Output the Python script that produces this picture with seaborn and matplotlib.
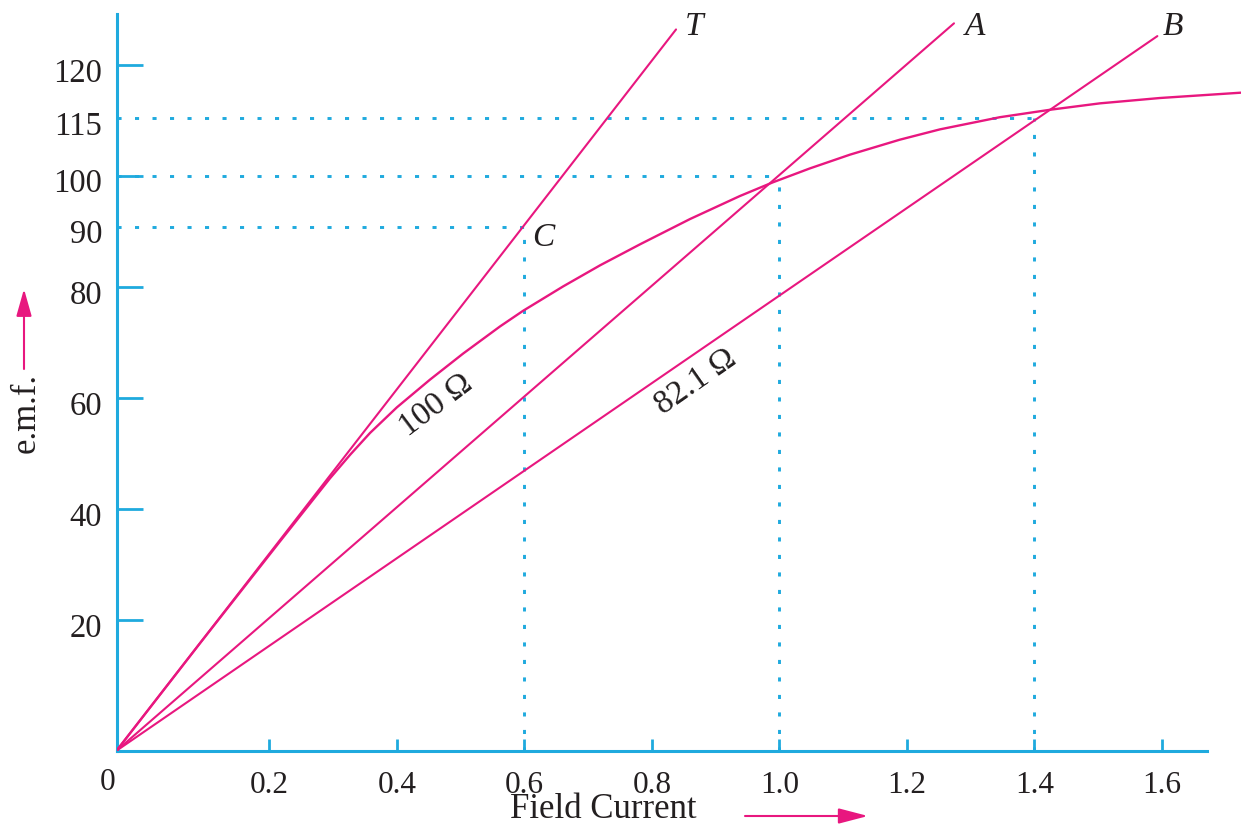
import numpy as np
import matplotlib
matplotlib.use("Agg")
import matplotlib.pyplot as plt
import matplotlib.transforms as mtransforms
import seaborn as sns


# open circuit characteristic (field current in A, e.m.f. in V)
occ_current = [0, 0.109, 0.217, 0.295, 0.327, 0.358, 0.400, 0.452, 0.504, 0.562,
               0.598, 0.661, 0.719, 0.782, 0.860, 0.938, 0.990, 1.048, 1.111, 1.189,
               1.252, 1.346, 1.425, 1.503, 1.597, 1.724]
occ_emf = [0, 16.4, 34.2, 45.5, 49.8, 53.7, 58.3, 63.3, 68.0, 72.9,
           75.7, 80.1, 83.6, 87.1, 91.5, 96.0, 98.7, 101.9, 105.5, 109.4,
           112.1, 115.1, 115.8, 116.4, 116.9, 117.4]

# field resistance lines, all from the origin to these end points
line_names = ["T", "A", "B"]
line_end_current = [0.838, 1.274, 1.593]
line_end_emf = [126.4, 127.5, 125.2]

# dotted guides
guide_current = [0.6, 1.0, 1.4]
guide_emf = [90, 100, 115]

x_ticks = [0.2, 0.4, 0.6, 0.8, 1.0, 1.2, 1.4, 1.6]
x_tick_labels = ["0.2", "0.4", "0.6", "0.8", "1.0", "1.2", "1.4", "1.6"]
y_ticks = [20, 40, 60, 80, 90, 100, 115, 120]
y_tick_labels = ["20", "40", "60", "80", "90", "100", "115", "120"]
y_unmarked = [90, 115]

MAGENTA = "#e8177f"
CYAN = "#1faade"
INK = "#231f20"

# the drawing's axes are not evenly spaced, so use piecewise-linear scales
xk = [-10, 0, 0.2, 10]
xd = [-7640, 0, 152.8, 152.8 + 9.8 * 637.5]
yk = [-100, 0, 20, 80, 90, 100, 115, 120, 300]
yd = [-653.5, 0, 130.7, 463.7, 524, 575, 632.4, 685.7, 685.7 + 180 * 5.55]


def fx(v):
    return np.interp(v, xk, xd)


def fx_inv(d):
    return np.interp(d, xd, xk)


def fy(v):
    return np.interp(v, yk, yd)


def fy_inv(d):
    return np.interp(d, yd, yk)


sns.set_theme(style="white")
plt.rcParams["font.family"] = ["Liberation Serif", "DejaVu Serif"]

fig = plt.figure(figsize=(12.41, 8.28), dpi=100)
ax = fig.add_axes([116.5 / 1241, (828 - 751.7) / 828, (1241 - 116.5) / 1241, (751.7 - 14.9) / 828])
ax.set_xscale("function", functions=(fx, fx_inv))
ax.set_yscale("function", functions=(fy, fy_inv))

# dotted guides
for gx, gy in zip(guide_current, guide_emf):
    ax.plot([0, gx], [gy, gy], color=CYAN, lw=2.1, dashes=(1.4, 4.6), zorder=1)
    ax.plot([gx, gx], [0, gy], color=CYAN, lw=2.1, dashes=(1.4, 4.6), zorder=1)

# curve and resistance lines
sns.lineplot(x=occ_current, y=occ_emf, sort=False, color=MAGENTA, lw=1.7, ax=ax, zorder=3)
for name, xe, ye in zip(line_names, line_end_current, line_end_emf):
    sns.lineplot(x=[0, xe], y=[0, ye], color=MAGENTA, lw=1.5, ax=ax, zorder=3)

ax.set_xlim(0, 1.7242)
ax.set_ylim(0, 129.2)

# labels on the lines
ax.text(0.866, 127.0, "T", style="italic", fontsize=24, ha="center", va="center", color=INK)
ax.text(1.307, 127.0, "A", style="italic", fontsize=24, ha="center", va="center", color=INK)
ax.text(1.618, 127.0, "B", style="italic", fontsize=24, ha="center", va="center", color=INK)
ax.text(0.629, 88.3, "C", style="italic", fontsize=24, ha="center", va="center", color=INK)
ax.text(0.4615, 58.9, "100 Ω", rotation=37, rotation_mode="anchor", fontsize=24,
        ha="center", va="center", color=INK)
ax.text(0.869, 63.1, "82.1 Ω", rotation=35, rotation_mode="anchor", fontsize=24,
        ha="center", va="center", color=INK)

# axes styling
sns.despine(ax=ax)
for side in ["left", "bottom"]:
    ax.spines[side].set_color(CYAN)
    ax.spines[side].set_linewidth(2.2)
ax.spines["bottom"].set_bounds(0, 1.6704)

ax.set_xticks(x_ticks)
ax.set_xticklabels(x_tick_labels)
ax.set_yticks(y_ticks)
ax.set_yticklabels(y_tick_labels)
ax.tick_params(axis="y", direction="in", length=18.7, width=2, color=CYAN, pad=10.3,
               labelsize=23.5, labelcolor=INK, left=True)
ax.tick_params(axis="x", direction="in", length=8.6, width=2, color=CYAN, pad=13.7,
               labelsize=22.5, labelcolor=INK, bottom=True)
for t, v in zip(ax.yaxis.get_major_ticks(), y_ticks):
    if v in y_unmarked:
        t.tick1line.set_visible(False)
shift = mtransforms.ScaledTranslation(0, -0.04, fig.dpi_scale_trans)
for lbl in ax.get_yticklabels():
    lbl.set_transform(lbl.get_transform() + shift)
ax.grid(False)

ax.annotate("0", xy=(0, 0), xytext=(-8.5, -16.5), textcoords="offset pixels",
            ha="center", va="top", fontsize=22.5, color=INK)

# axis titles with arrows
fig.text(26 / 1241, 1 - 413 / 828, "e.m.f.", rotation=90, ha="center", va="center",
         fontsize=25, color=INK)
fig.text(603.5 / 1241, 1.5 / 828, "Field Current", ha="center", va="bottom",
         fontsize=25, color=INK)
ax.annotate("", xy=(24, 828 - 290), xytext=(24, 828 - 370), xycoords="figure pixels",
            textcoords="figure pixels",
            arrowprops=dict(arrowstyle="-|>,head_length=1.66,head_width=0.47",
                            mutation_scale=10, color=MAGENTA, lw=1.5, shrinkA=0, shrinkB=0))
ax.annotate("", xy=(868, 11), xytext=(745, 11), xycoords="figure pixels",
            textcoords="figure pixels",
            arrowprops=dict(arrowstyle="-|>,head_length=1.8,head_width=0.47",
                            mutation_scale=10, color=MAGENTA, lw=1.5, shrinkA=0, shrinkB=0))

fig.savefig("out.png", dpi=100)
